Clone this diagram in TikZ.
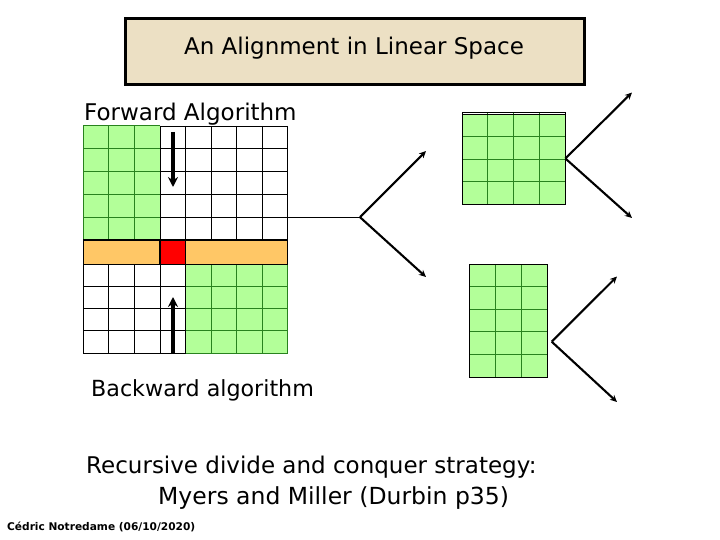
\documentclass[tikz,border=0pt]{standalone}
\usepackage{fontspec}
\setmainfont{DejaVu Sans}
\usetikzlibrary{arrows.meta}
\definecolor{parch}{RGB}{236,224,196}
\definecolor{gfillc}{RGB}{179,255,153}
\definecolor{glinec}{RGB}{40,130,30}
\definecolor{orangec}{RGB}{255,199,102}
\tikzset{
  gfill/.style={fill=gfillc},
  gline/.style={draw=glinec, line width=1pt},
  bline/.style={draw=black, line width=0.9pt},
  bandbox/.style={draw=black, line width=1.3pt},
  fatarrow/.style={line width=3.3pt, -{Stealth[length=10pt,width=10pt]}},
  branch/.style={line width=2.1pt, -{Stealth[length=7pt,width=6.5pt]}},
  stem/.style={line width=1.1pt},
  lbl/.style={inner sep=0pt, anchor=west},
  gridbox/.style={inner sep=0pt, draw=none, anchor=north west},
}
\begin{document}
\begin{tikzpicture}[x=1pt,y=-1pt]
\useasboundingbox (0,0) rectangle (720,540);

% title
\node[draw=black, line width=3pt, fill=parch, minimum width=459pt, minimum height=66pt, inner sep=0pt] (titlebox) at (354.5,52) {};
\node[inner sep=0pt, font=\fontsize{23}{27}\selectfont] (title) at (354,48) {An Alignment in Linear Space};

% labels
\node[lbl, font=\fontsize{23}{27}\selectfont] (fwd) at (84,114) {Forward Algorithm};
\node[lbl, font=\fontsize{22.2}{27}\selectfont] (bwd) at (91,390) {Backward algorithm};
\node[lbl, font=\fontsize{23}{27}\selectfont] (rec) at (86,467) {Recursive divide and conquer strategy:};
\node[lbl, font=\fontsize{23.5}{27}\selectfont] (mm) at (158,498) {Myers and Miller (Durbin p35)};
\node[inner sep=0pt, anchor=west, font=\bfseries\fontsize{10.6}{12}\selectfont] (foot) at (7,527) {Cédric Notredame (06/10/2020)};

% main grid
\node[gridbox, minimum width=204.4pt, minimum height=227.1pt] (main) at (83.3,126) {};
\fill[gfill] (83.3,126) rectangle (159.95,240);
\foreach \i in {0,1,2}{\draw[gline] ({83.3+25.55*\i},126) -- ({83.3+25.55*\i},240);}
\foreach \i in {3,...,8}{\draw[bline] ({83.3+25.55*\i},126) -- ({83.3+25.55*\i},240);}
\foreach \j in {0,...,5}{
  \draw[gline] (83.3,{126+22.8*\j}) -- (159.95,{126+22.8*\j});
  \draw[bline] (159.95,{126+22.8*\j}) -- (287.7,{126+22.8*\j});}
\fill[gfill] (185.5,264.3) rectangle (287.7,353.1);
\foreach \i in {0,...,4}{\draw[bline] ({83.3+25.55*\i},264.3) -- ({83.3+25.55*\i},353.1);}
\foreach \i in {5,...,8}{\draw[gline] ({83.3+25.55*\i},264.3) -- ({83.3+25.55*\i},353.1);}
\foreach \k in {0,...,4}{
  \draw[bline] (83.3,{264.3+22.2*\k}) -- (185.5,{264.3+22.2*\k});
  \draw[gline] (185.5,{264.3+22.2*\k}) -- (287.7,{264.3+22.2*\k});}
% band
\filldraw[bandbox, fill=orangec] (83.3,240) rectangle (159.95,264.3);
\filldraw[bandbox, fill=orangec] (185.5,240) rectangle (287.7,264.3);
\filldraw[bandbox, fill=red] (159.95,240) rectangle (185.5,264.3);

% arrows inside main grid
\coordinate (dTop) at (173,132);
\coordinate (dEnd) at (173,187);
\coordinate (uBot) at (173,354);
\coordinate (uEnd) at (173,297);
\draw[fatarrow] (dTop) -- (dEnd);
\draw[fatarrow] (uBot) -- (uEnd);

% upper right grid
\node[gridbox, minimum width=102.7pt, minimum height=92pt] (g1) at (462.3,112.3) {};
\fill[gfill] (462.3,114.5) rectangle (565,204.3);
\foreach \i in {1,2,3}{\draw[gline] ({462.3+25.675*\i},112.3) -- ({462.3+25.675*\i},204.3);}
\foreach \j in {1,2,3}{\draw[gline] (462.3,{114.5+22.45*\j}) -- (565,{114.5+22.45*\j});}
\draw[bline] (462.3,114.5) -- (565,114.5);
\draw[bline] (462.3,112.3) rectangle (565,204.3);

% lower right grid
\node[gridbox, minimum width=78.3pt, minimum height=113.3pt] (g2) at (469,264) {};
\fill[gfill] (469,264) rectangle (547.3,377.3);
\foreach \i in {1,2}{\draw[gline] ({469+26.1*\i},264) -- ({469+26.1*\i},377.3);}
\foreach \j in {1,...,4}{\draw[gline] (469,{264+22.66*\j}) -- (547.3,{264+22.66*\j});}
\draw[bline] (469,264) rectangle (547.3,377.3);

% branches
\coordinate (mainE) at (287.7,217.2);
\coordinate (b1) at (360,217.2);
\coordinate (t1) at (426,151);
\coordinate (t2) at (426,277);
\draw[stem] (mainE) -- (b1);
\draw[branch] (b1) -- (t1);
\draw[branch] (b1) -- (t2);

\coordinate (b2) at (g1.east);
\coordinate (t3) at (632,92.5);
\coordinate (t4) at (632,218);
\draw[branch] (b2) -- (t3);
\draw[branch] (b2) -- (t4);

\coordinate (b3) at (551.7,341.7);
\coordinate (t5) at (617,276.5);
\coordinate (t6) at (617,402);
\draw[branch] (b3) -- (t5);
\draw[branch] (b3) -- (t6);
\end{tikzpicture}
\end{document}
